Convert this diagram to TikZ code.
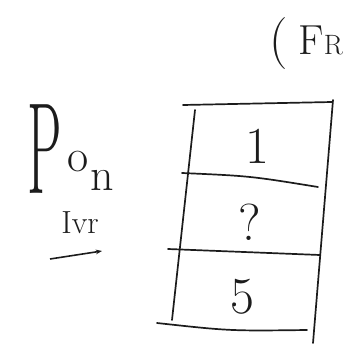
\documentclass[tikz,border=0pt]{standalone}
\usepackage{fontspec}
\usepackage{tikz}
\usetikzlibrary{calc,arrows.meta,positioning}
\definecolor{inkc}{HTML}{1C1C1C}
\tikzset{
  pen/.style={line width=1.7pt,inkc,line cap=round},
  cell/.style={font=\fontsize{52}{52}\selectfont,inkc,inner sep=0pt},
  note/.style={inkc,inner sep=0pt},
  ar/.style={-{Stealth[length=2.2mm]},line width=1.6pt,inkc}
}

\begin{document}
\begin{tikzpicture}[x=1pt,y=-1pt]
\useasboundingbox (0,0) rectangle (349,350);
% stack of cells
\draw[pen] (183,105) -- (332,102);
\draw[pen] (195,110) -- (172,320);
\draw[pen] (333,100) -- (313,343);
\draw[pen] (182,173) .. controls (250,176) .. (318,187);
\draw[pen] (168,249) -- (320,255);
\draw[pen] (157,323) .. controls (230,331) .. (307,330);
\node[cell] (one) at (257,146) {1};
\node[cell] (qm) at (250,222) {?};
\node[cell] (five) at (242,297) {5};
% left notes
\node[note,font=\fontsize{130}{130}\selectfont,anchor=south] (bigp) at (45,194) {\scalebox{0.42}[1]{P}};
\node[note,font=\fontsize{46}{46}\selectfont,anchor=south west] (oo) at (67,172) {o};
\node[note,font=\fontsize{46}{46}\selectfont,anchor=south west] (nn) at (90,191) {n};
\node[note,font=\fontsize{32}{32}\selectfont,anchor=south] (ivr) at (80,234) {Ivr};
\coordinate (arst) at (50,259);
\coordinate (aren) at (102,251);
\draw[ar] (arst) -- (aren);
% top right corner
\node[note,font=\fontsize{52}{52}\selectfont] (paren) at (279,44) {(};
\node[note,font=\fontsize{42}{42}\selectfont,anchor=south west] (ff) at (298,55) {F};
\node[note,font=\fontsize{28}{28}\selectfont,anchor=south west] (rr) at (ff.south east) {R};
\end{tikzpicture}
\end{document}
